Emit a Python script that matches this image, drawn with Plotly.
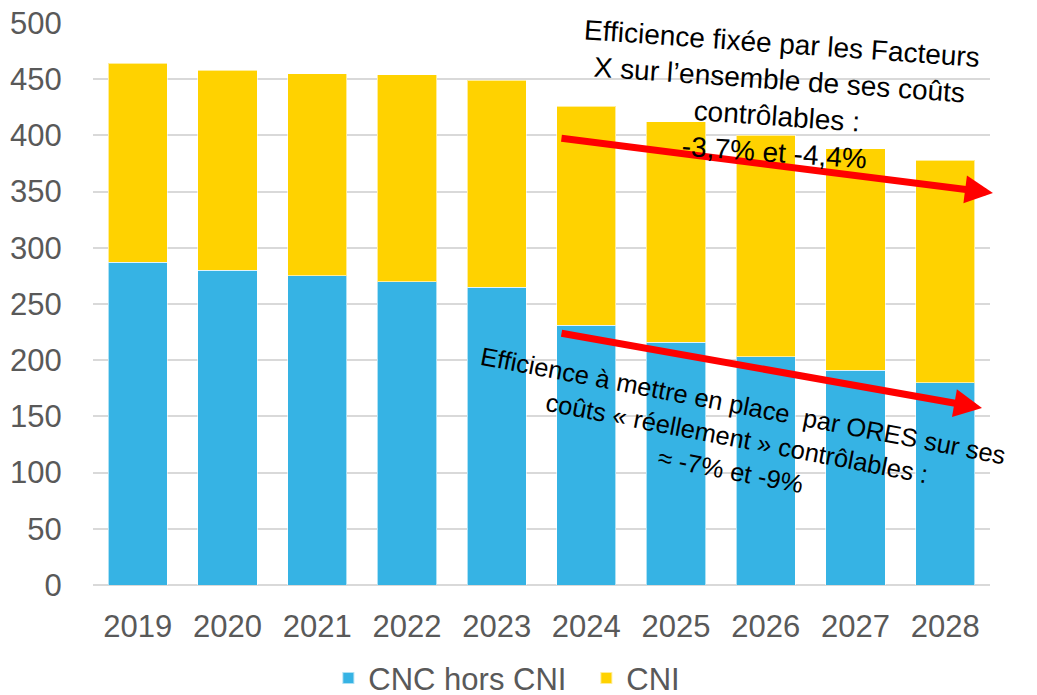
import plotly.graph_objects as go

years = ["2019", "2020", "2021", "2022", "2023", "2024", "2025", "2026", "2027", "2028"]
cnc_hors_cni = [287, 280, 275, 270, 265, 231, 216, 203, 191, 180]
cni = [177, 178, 180, 184, 184, 195, 196, 197, 197, 198]
y_ticks = [0, 50, 100, 150, 200, 250, 300, 350, 400, 450, 500]

BLUE = "#36B3E4"
YELLOW = "#FFD200"
FONT = "Liberation Sans, Arial, sans-serif"

fig = go.Figure()
fig.add_trace(go.Bar(x=years, y=cnc_hors_cni, name="CNC hors CNI",
                     marker=dict(color=BLUE, line=dict(color="rgba(255,255,255,0.6)", width=1))))
fig.add_trace(go.Bar(x=years, y=cni, name="CNI",
                     marker=dict(color=YELLOW, line=dict(color="rgba(255,255,255,0.6)", width=1))))

fig.update_layout(
    barmode="stack",
    bargap=0.34,
    width=1037, height=695,
    margin=dict(l=93, r=47, t=23, b=110, autoexpand=False),
    paper_bgcolor="white", plot_bgcolor="white",
    font=dict(family=FONT, size=31, color="#595959"),
    showlegend=True,
    legend=dict(orientation="h", x=0.55, xanchor="center", yref="container", y=0.024,
                yanchor="middle", font=dict(size=31, color="#595959"), traceorder="normal",
                itemsizing="constant", entrywidth=213),
    xaxis=dict(range=[-0.5, 9.5], showgrid=False, showline=False, zeroline=False,
               ticks="outside", ticklen=14, tickcolor="rgba(0,0,0,0)",
               tickfont=dict(size=31, color="#595959")),
    yaxis=dict(range=[0, 500], tickvals=y_ticks, showgrid=True, gridcolor="#D9D9D9",
               gridwidth=1.5, zeroline=True, zerolinecolor="#D9D9D9", zerolinewidth=1.5,
               showline=False, ticks="outside", ticklen=24, tickcolor="rgba(0,0,0,0)",
               tickfont=dict(size=31, color="#595959")),
)

# Arrows
fig.add_annotation(xref="paper", yref="paper", x=1.0033, y=0.6975, ax=-433, ay=-55,
                   axref="pixel", ayref="pixel", showarrow=True, text="",
                   arrowcolor="#FF0000", arrowwidth=7, arrowhead=2, arrowsize=0.8)
fig.add_annotation(xref="paper", yref="paper", x=0.9911, y=0.3149, ax=-422, ay=-75,
                   axref="pixel", ayref="pixel", showarrow=True, text="",
                   arrowcolor="#FF0000", arrowwidth=7, arrowhead=2, arrowsize=0.8)

# Texts
fig.add_annotation(xref="paper", yref="paper", x=(778 - 93) / 897, y=(585 - 98) / 562,
                   xanchor="center", yanchor="middle", showarrow=False, textangle=4,
                   text="Efficience fixée par les Facteurs<br>X sur l’ensemble de ses coûts<br>contrôlables :<br>-3,7% et -4,4%",
                   font=dict(family=FONT, size=28, color="black"))
fig.add_annotation(xref="paper", yref="paper", x=(737 - 93) / 897, y=(585 - 438) / 562,
                   xanchor="center", yanchor="middle", showarrow=False, textangle=10.8,
                   text="Efficience à mettre en place \u00a0par ORES sur ses<br>coûts « réellement » contrôlables :<br>≈ -7% et -9%",
                   font=dict(family=FONT, size=25.5, color="black"))

fig.write_html("out.html")
